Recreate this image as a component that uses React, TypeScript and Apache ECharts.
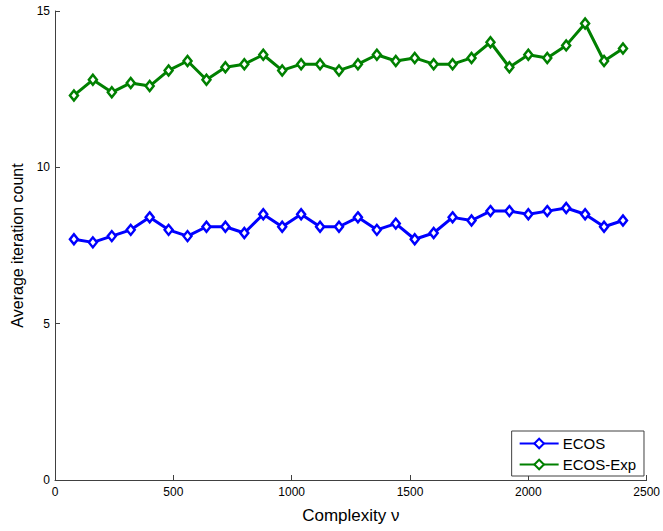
import React, { useEffect, useRef } from "react";
import * as echarts from "echarts";

const complexity = [80, 160, 240, 320, 400, 480, 560, 640, 720, 800, 880, 960, 1040, 1120, 1200, 1280, 1360, 1440, 1520, 1600, 1680, 1760, 1840, 1920, 2000, 2080, 2160, 2240, 2320, 2400];
const ecos = [7.7, 7.6, 7.8, 8.0, 8.4, 8.0, 7.8, 8.1, 8.1, 7.9, 8.5, 8.1, 8.5, 8.1, 8.1, 8.4, 8.0, 8.2, 7.7, 7.9, 8.4, 8.3, 8.6, 8.6, 8.5, 8.6, 8.7, 8.5, 8.1, 8.3];
const ecosExp = [12.3, 12.8, 12.4, 12.7, 12.6, 13.1, 13.4, 12.8, 13.2, 13.3, 13.6, 13.1, 13.3, 13.3, 13.1, 13.3, 13.6, 13.4, 13.5, 13.3, 13.3, 13.5, 14.0, 13.2, 13.6, 13.5, 13.9, 14.6, 13.4, 13.8];
const seriesNames = ["ECOS", "ECOS-Exp"];
const seriesColors = ["#0000ff", "#008000"];

const FONT = "Liberation Sans";

export default function App() {
  const ref = useRef<HTMLDivElement>(null);
  useEffect(() => {
    if (!ref.current) return;
    const chart = echarts.init(ref.current, undefined, { renderer: "svg" });
    const mk = (name: string, color: string, vals: number[]) => ({
      name,
      type: "line",
      data: complexity.map((x, i) => [x, vals[i]]),
      symbol: "diamond",
      symbolSize: [8, 10],
      showSymbol: true,
      lineStyle: { color, width: 3 },
      itemStyle: { color: "#ffffff", borderColor: color, borderWidth: 2.5 },
      emphasis: { disabled: true },
    });
    chart.setOption({
      animation: false,
      backgroundColor: "#ffffff",
      grid: { left: 55, right: 12, top: 11, bottom: 51 },
      xAxis: {
        type: "value",
        min: 0,
        max: 2500,
        interval: 500,
        name: "Complexity ν",
        nameLocation: "middle",
        nameGap: 27,
        nameTextStyle: { fontFamily: FONT, fontSize: 17, color: "#000" },
        axisLine: { show: true, lineStyle: { color: "#404040", width: 1 } },
        axisTick: { show: true, inside: true, length: 5, lineStyle: { color: "#404040" } },
        axisLabel: { fontFamily: FONT, fontSize: 12, color: "#000", margin: 6, formatter: (v: number) => String(v) },
        splitLine: { show: false },
      },
      yAxis: {
        type: "value",
        min: 0,
        max: 15,
        interval: 5,
        name: "Average iteration count",
        nameLocation: "middle",
        nameGap: 30,
        nameTextStyle: { fontFamily: FONT, fontSize: 16, color: "#000" },
        axisLine: { show: true, lineStyle: { color: "#404040", width: 1 } },
        axisTick: { show: true, inside: true, length: 5, lineStyle: { color: "#404040" } },
        axisLabel: { fontFamily: FONT, fontSize: 12, color: "#000", margin: 5, formatter: (v: number) => String(v) },
        splitLine: { show: false },
      },
      legend: {
        data: seriesNames,
        orient: "vertical",
        right: 19,
        bottom: 55,
        backgroundColor: "#ffffff",
        borderColor: "#404040",
        borderWidth: 1,
        borderRadius: 0,
        padding: [5, 8, 4, 7],
        itemGap: 6,
        itemWidth: 39,
        itemHeight: 12,
        textStyle: { fontFamily: FONT, fontSize: 15, color: "#000", padding: [0, 0, 0, -1] },
      },
      series: [
        mk(seriesNames[0], seriesColors[0], ecos),
        mk(seriesNames[1], seriesColors[1], ecosExp),
      ],
    });
    return () => chart.dispose();
  }, []);
  return (
    <div
      ref={ref}
      style={{ position: "fixed", left: 0, top: 0, width: 663, height: 531, background: "#fff" }}
    />
  );
}
